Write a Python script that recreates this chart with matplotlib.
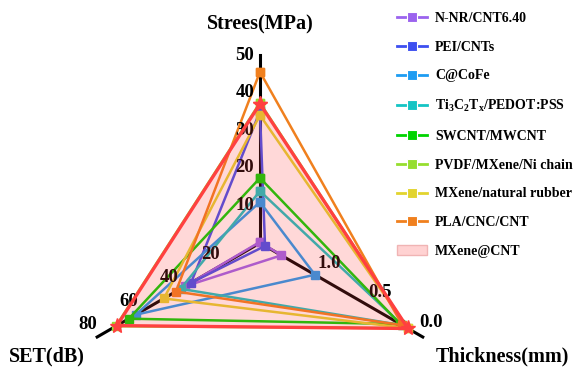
import numpy as np
import matplotlib
matplotlib.use("Agg")
import matplotlib.pyplot as plt
from matplotlib.lines import Line2D
from matplotlib.patches import Patch

plt.rcParams['font.family'] = ['Liberation Serif', 'DejaVu Serif']
plt.rcParams['font.weight'] = 'bold'
plt.rcParams['mathtext.fontset'] = 'custom'
plt.rcParams['mathtext.rm'] = 'Liberation Serif:bold'
plt.rcParams['mathtext.it'] = 'Liberation Serif:bold'
plt.rcParams['mathtext.bf'] = 'Liberation Serif:bold'

# materials (legend order)
materiales = ["N-NR/CNT6.40", "PEI/CNTs", "C@CoFe", r"Ti$_3$C$_2$T$_\mathrm{x}$/PEDOT:PSS",
              "SWCNT/MWCNT", "PVDF/MXene/Ni chain", "MXene/natural rubber", "PLA/CNC/CNT"]
colores = ["#9b63ee", "#3d4ff0", "#1d9cf2", "#14c4c4",
           "#00d400", "#96de2e", "#e2d42e", "#f0801e"]

# values
stress = [0.3, 35.0, 10.9, 13.8, 17.3, 37.3, 34.0, 45.5]       # MPa
set_db = [36.9, 33.9, 61.0, 39.0, 64.4, 70.8, 47.2, 41.3]      # dB
thickness = [1.39, 1.55, 1.06, 0.20, 0.22, 0.15, 0.15, 0.20]   # mm

# this work
ref_nombre = "MXene@CNT"
ref_stress = 37.0
ref_set = 70.3
ref_thickness = 0.145

# axis ranges (thickness axis is reversed: thinner is better)
stress_max = 50
set_max = 80
thick_max = 1.6

stress_ticks = [10, 20, 30, 40, 50]
set_ticks = [20, 40, 60, 80]
thick_ticks = [1.0, 0.5, 0.0]

ang = np.deg2rad([90, 210, 330])


def normalizar(s, e, t):
    return [s / stress_max, e / set_max, (thick_max - t) / thick_max]


fig = plt.figure(figsize=(5.78, 3.67), dpi=100)
ax = fig.add_axes([0.1245, -0.1744, 0.6505, 1.0245], projection='polar')
ax.set_ylim(0, 1)
ax.axis('off')

# axis lines
for a in ang:
    ax.plot([a, a], [0, 1], color='black', lw=2.2, zorder=1, clip_on=False)

# comparison materials
th = np.append(ang, ang[0])
for i in range(len(materiales)):
    r = normalizar(stress[i], set_db[i], thickness[i])
    r = r + [r[0]]
    ax.plot(th, r, color=colores[i], lw=1.8, marker='s', markersize=6,
            zorder=2 + i * 0.1, clip_on=False)

# tick labels
for v in stress_ticks:
    ax.annotate(f"{v}", xy=(ang[0], v / stress_max), xytext=(-10.8, 0), textcoords='offset points',
                ha='center', va='center', fontsize=13.5, fontweight='bold', zorder=4)
for v in set_ticks:
    ax.annotate(f"{v}", xy=(ang[1], v / set_max), xytext=(-6.5, 9), textcoords='offset points',
                ha='center', va='center', fontsize=13.5, fontweight='bold', zorder=4)
for v in thick_ticks:
    ax.annotate(f"{v:.1f}", xy=(ang[2], (thick_max - v) / thick_max), xytext=(6.1, 10.6),
                textcoords='offset points', ha='center', va='center', fontsize=13.5,
                fontweight='bold', zorder=4)

# this work: filled area on top
r_ref = normalizar(ref_stress, ref_set, ref_thickness)
r_ref = r_ref + [r_ref[0]]
ax.fill(th, r_ref, color='#ff4040', alpha=0.2, lw=0, zorder=10, clip_on=False)
ax.plot(th, r_ref, color='#ff4040', lw=2.4, marker='*', markersize=11, zorder=11, clip_on=False)

# axis titles
fig.text(0.45, 0.932, "Strees(MPa)", ha='center', va='center', fontsize=14.5, fontweight='bold')
fig.text(0.081, 0.028, "SET(dB)", ha='center', va='center', fontsize=14.5, fontweight='bold')
fig.text(0.870, 0.028, "Thickness(mm)", ha='center', va='center', fontsize=14.5, fontweight='bold')

# legend
handles = [Line2D([0], [0], color=c, lw=2, marker='s', markersize=6.5,
                  markeredgecolor='white', markeredgewidth=0.8) for c in colores]
handles.append(Patch(facecolor='#ffd2d2', edgecolor='#f0b4b4'))
etiquetas = materiales + [ref_nombre]
fig.legend(handles, etiquetas, loc='upper left', bbox_to_anchor=(0.687, 0.967),
           frameon=False, handlelength=2.17, handletextpad=0.56, borderaxespad=0,
           labelspacing=1.13, borderpad=0, prop={'weight': 'bold', 'size': 10})

fig.savefig("out.png", dpi=100)
